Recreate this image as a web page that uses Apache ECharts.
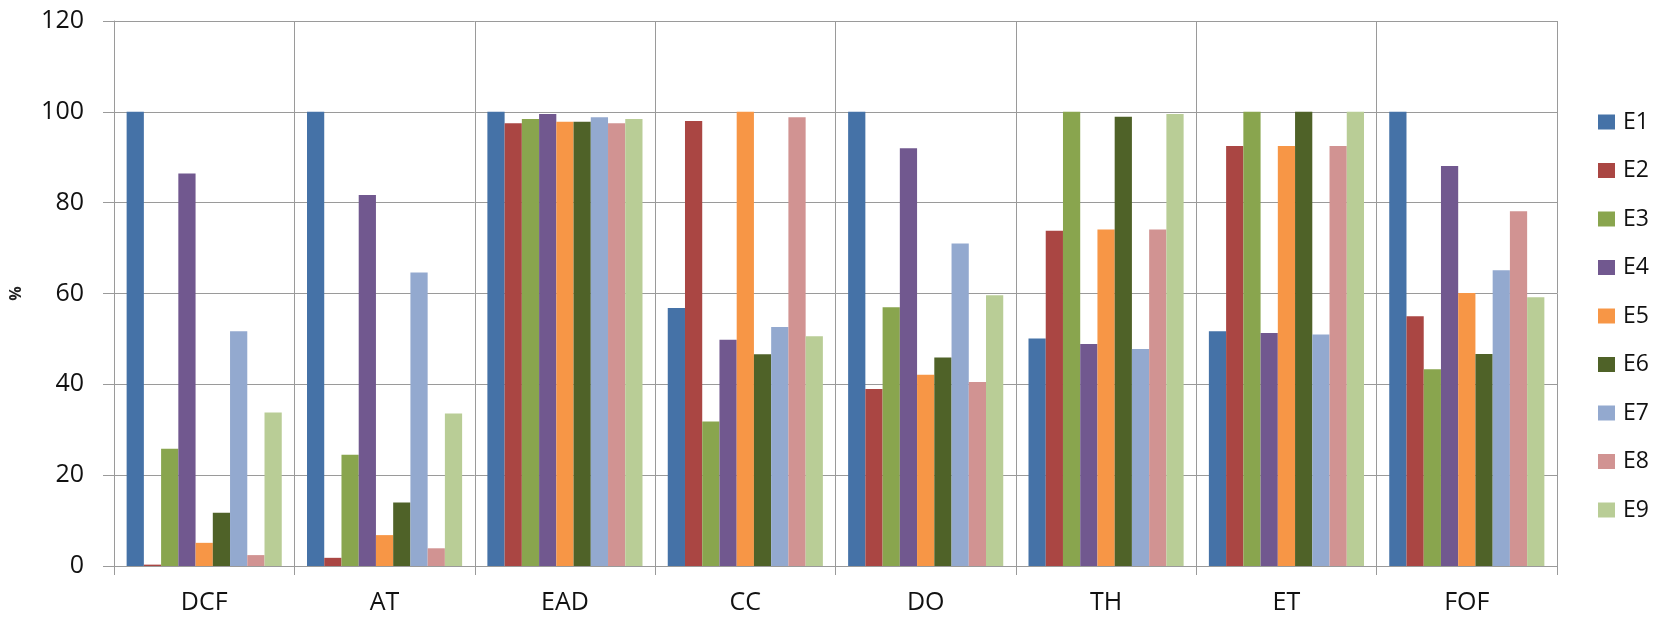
<!DOCTYPE html>
<html>
<head>
<meta charset="utf-8">
<script src="https://cdn.jsdelivr.net/npm/echarts@6/dist/echarts.min.js"></script>
<style>
html,body{margin:0;padding:0;background:#fff;}
#chart{width:1654px;height:622px;}
</style>
</head>
<body>
<div id="chart"></div>
<script>
const categories = ['DCF', 'AT', 'EAD', 'CC', 'DO', 'TH', 'ET', 'FOF'];
const seriesNames = ['E1', 'E2', 'E3', 'E4', 'E5', 'E6', 'E7', 'E8', 'E9'];
const yTicks = [0, 20, 40, 60, 80, 100, 120];

const E1 = [100, 100, 100, 56.8, 100, 50.1, 51.7, 100];
const E2 = [0.3, 1.8, 97.5, 98.0, 39.0, 73.8, 92.5, 55.0];
const E3 = [25.8, 24.5, 98.4, 31.8, 57.0, 100, 100, 43.3];
const E4 = [86.4, 81.7, 99.5, 49.8, 92.0, 48.9, 51.3, 88.1];
const E5 = [5.1, 6.8, 97.8, 100, 42.1, 74.1, 92.5, 60.1];
const E6 = [11.7, 14.0, 97.8, 46.6, 45.9, 98.9, 100, 46.7];
const E7 = [51.7, 64.6, 98.8, 52.6, 71.0, 47.8, 51.0, 65.1];
const E8 = [2.4, 3.9, 97.5, 98.8, 40.5, 74.1, 92.5, 78.1];
const E9 = [33.8, 33.6, 98.4, 50.6, 59.6, 99.5, 100, 59.2];

const values = [E1, E2, E3, E4, E5, E6, E7, E8, E9];
const colors = ['#4572A7', '#AA4643', '#89A54E', '#71588F', '#F79646', '#4F6228', '#93A9CF', '#D19392', '#B9CD96'];

const gridColor = '#9a9a9a';
const font = '"Open Sans", sans-serif';

const chart = echarts.init(document.getElementById('chart'));
chart.setOption({
  animation: false,
  color: colors,
  grid: { left: 113, right: 97, top: 21, bottom: 56 },
  legend: {
    orient: 'vertical',
    left: 1593,
    top: 105,
    itemWidth: 17,
    itemHeight: 15,
    itemGap: 24.5,
    icon: 'rect',
    data: seriesNames,
    textStyle: { fontFamily: font, fontSize: 23, color: '#111', lineHeight: 24, padding: [0, 0, 0, 3] }
  },
  xAxis: {
    type: 'category',
    data: categories,
    axisLine: { show: true, lineStyle: { color: gridColor, width: 1 } },
    axisTick: { show: true, length: 9, lineStyle: { color: gridColor } },
    splitLine: { show: true, lineStyle: { color: gridColor, width: 1 } },
    axisLabel: { fontFamily: font, fontSize: 25, color: '#111', margin: 24 }
  },
  yAxis: {
    type: 'value',
    min: yTicks[0],
    max: yTicks[yTicks.length - 1],
    interval: yTicks[1] - yTicks[0],
    name: '%',
    nameLocation: 'middle',
    nameGap: 90,
    nameRotate: 90,
    nameTextStyle: { fontFamily: font, fontSize: 16, fontWeight: 'bold', color: '#222' },
    axisLine: { show: true, lineStyle: { color: gridColor, width: 1 } },
    axisTick: { show: true, length: 11, lineStyle: { color: gridColor } },
    splitLine: { show: true, lineStyle: { color: gridColor, width: 1 } },
    axisLabel: { fontFamily: font, fontSize: 25, color: '#111', margin: 30 }
  },
  series: seriesNames.map((n, i) => ({
    name: n,
    type: 'bar',
    data: values[i],
    barGap: '0%',
    barCategoryGap: '14%',
    itemStyle: { color: colors[i] }
  }))
});
</script>
</body>
</html>
